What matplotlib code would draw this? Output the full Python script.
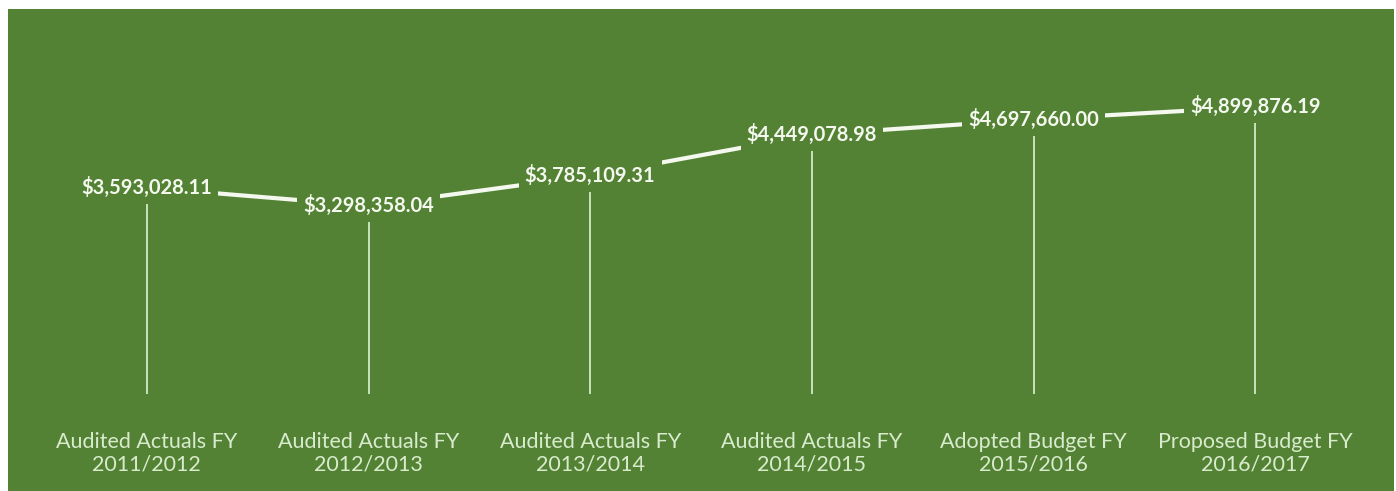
import matplotlib.pyplot as plt
from matplotlib.patches import Rectangle

# Data
categories = ['Audited Actuals FY\n2011/2012', 'Audited Actuals FY\n2012/2013',
              'Audited Actuals FY\n2013/2014', 'Audited Actuals FY\n2014/2015',
              'Adopted Budget FY\n2015/2016', 'Proposed Budget FY\n2016/2017']
values = [3593028.11, 3298358.04, 3785109.31, 4449078.98, 4697660.00, 4899876.19]

green = '#548235'
label_color = '#d8ebcd'
line_color = '#f4f8ef'

plt.rcParams['font.family'] = ['Lato', 'DejaVu Sans']

fig = plt.figure(figsize=(13.96, 4.91), dpi=100)
fig.patch.set_facecolor('white')

# Green chart area (white strip on top and left)
bg = fig.add_axes([8 / 1396, 0, 1386 / 1396, 482 / 491])
bg.add_patch(Rectangle((0, 0), 1, 1, color=green, transform=bg.transAxes))
bg.set_axis_off()

ax = fig.add_axes([36 / 1396, 97 / 491, 1330 / 1396, 355 / 491])
ax.patch.set_alpha(0)
x = list(range(len(values)))
ax.set_xlim(-0.5, len(values) - 0.5)
ax.set_ylim(2.5e5, 6.0e6)

# Drop lines
ax.vlines(x, ax.get_ylim()[0], values, color='#c9e2bb', linewidth=1.4, zorder=1)

# Main line
ax.plot(x, values, color=line_color, linewidth=3.0, solid_capstyle='butt', zorder=2)

# Data labels centered on points
for xi, v in zip(x, values):
    ax.text(xi, v, f'${v:,.2f}', ha='center', va='center', fontsize=14.5,
            fontweight='bold', color=line_color, zorder=3,
            bbox=dict(boxstyle='square,pad=0.3', facecolor=green, edgecolor='none'))

ax.set_xticks(x)
ax.set_xticklabels(categories, fontsize=15.5, color=label_color, linespacing=1.2)
ax.tick_params(axis='x', length=0, pad=27)
ax.set_yticks([])
for s in ax.spines.values():
    s.set_visible(False)

plt.savefig('out.png', dpi=100, facecolor=fig.get_facecolor())
